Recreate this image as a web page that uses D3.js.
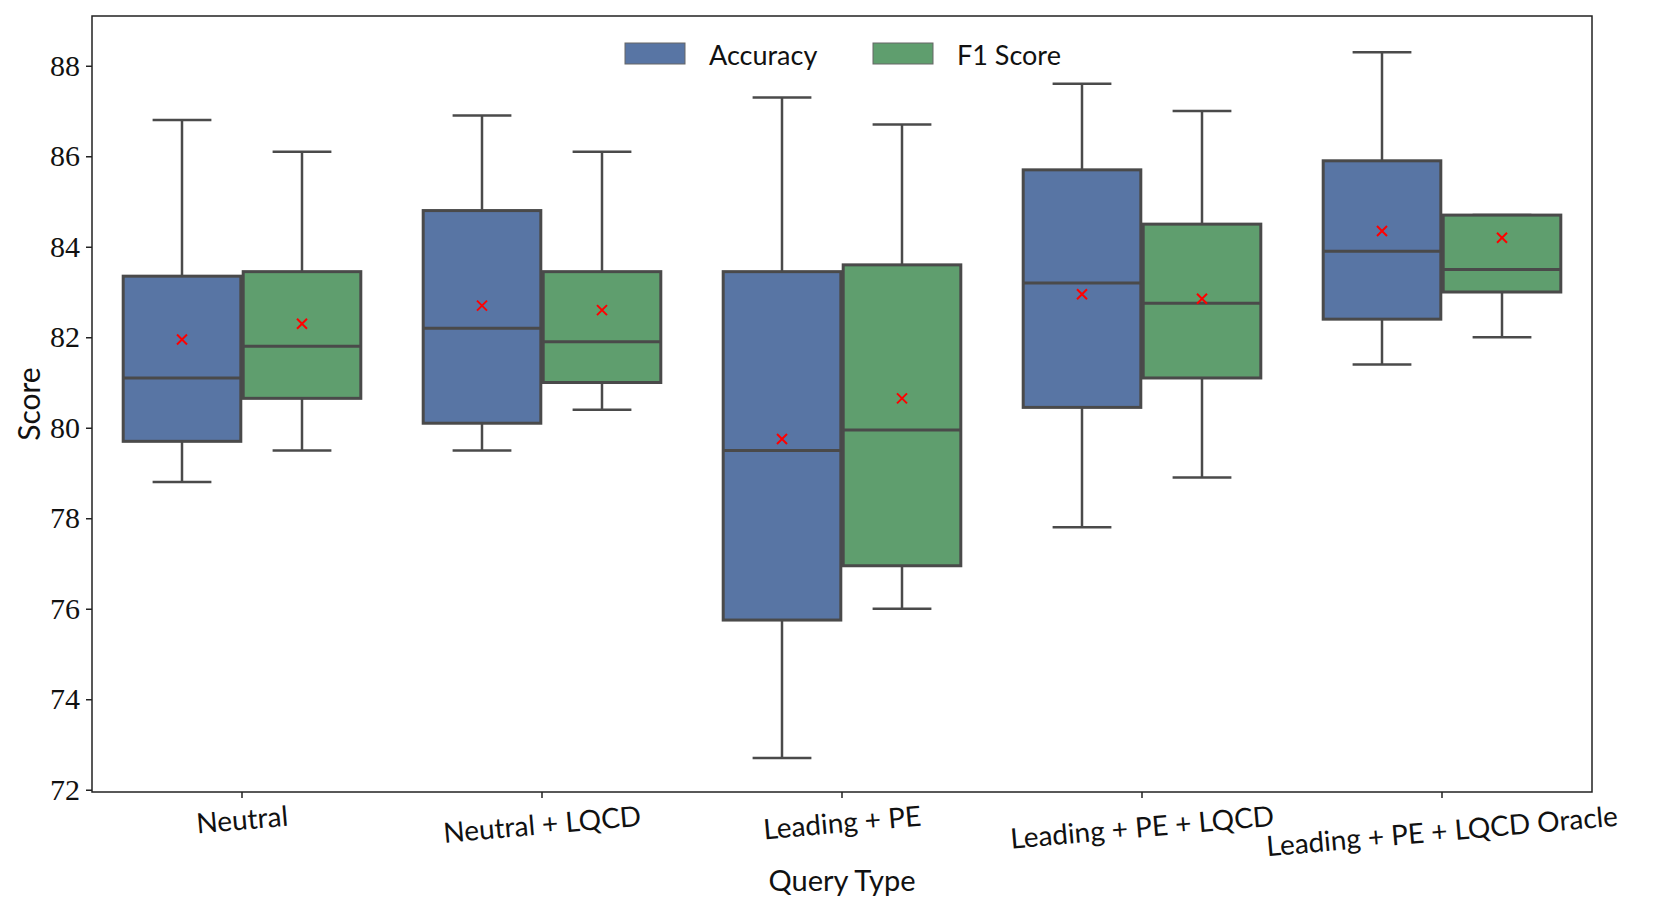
<!DOCTYPE html>
<html>
<head>
<meta charset="utf-8">
<script src="https://cdn.jsdelivr.net/npm/d3@7"></script>
<style>
  body { margin: 0; background: #fff; }
</style>
</head>
<body>
<script>
// box stats
var categories = ["Neutral", "Neutral + LQCD", "Leading + PE", "Leading + PE + LQCD", "Leading + PE + LQCD Oracle"];
var seriesNames = ["Accuracy", "F1 Score"];
var seriesColors = ["#5875a4", "#5f9e6e"];

var accLow = [78.8, 79.5, 72.7, 77.8, 81.4];
var accQ1 = [79.7, 80.1, 75.75, 80.45, 82.4];
var accMedian = [81.1, 82.2, 79.5, 83.2, 83.9];
var accQ3 = [83.35, 84.8, 83.45, 85.7, 85.9];
var accHigh = [86.8, 86.9, 87.3, 87.6, 88.3];
var accMean = [81.95, 82.7, 79.75, 82.95, 84.35];

var f1Low = [79.5, 80.4, 76.0, 78.9, 82.0];
var f1Q1 = [80.65, 81.0, 76.95, 81.1, 83.0];
var f1Median = [81.8, 81.9, 79.95, 82.75, 83.5];
var f1Q3 = [83.45, 83.45, 83.6, 84.5, 84.7];
var f1High = [86.1, 86.1, 86.7, 87.0, 84.7];
var f1Mean = [82.3, 82.6, 80.65, 82.85, 84.2];

var yTicks = [72, 74, 76, 78, 80, 82, 84, 86, 88];

var width = 1661, height = 911;
var plotLeft = 92, plotTop = 16, plotRight = 1592, plotBottom = 792;
var lineColor = "#4a4a4a";

var boxes = [];
categories.forEach(function (c, i) {
  boxes.push({cat: c, s: 0, low: accLow[i], q1: accQ1[i], med: accMedian[i], q3: accQ3[i], high: accHigh[i], mean: accMean[i]});
  boxes.push({cat: c, s: 1, low: f1Low[i], q1: f1Q1[i], med: f1Median[i], q3: f1Q3[i], high: f1High[i], mean: f1Mean[i]});
});

var svg = d3.select("body").append("svg")
  .attr("width", width)
  .attr("height", height);

var x = d3.scaleBand().domain(categories).range([plotLeft, plotRight]);
var hue = d3.scaleBand().domain([0, 1]).range([0, x.bandwidth() * 0.8]);
var y = d3.scaleLinear().domain([71.95, 89.1]).range([plotBottom, plotTop]);

var boxW = hue.bandwidth() * 0.98;
var capW = boxW * 0.5;

function cx(d) {
  return x(d.cat) + x.bandwidth() * 0.1 + hue(d.s) + hue.bandwidth() / 2;
}

var g = svg.append("g");
var box = g.selectAll("g.box").data(boxes).enter().append("g").attr("class", "box");

// whiskers
box.append("line")
  .attr("x1", cx).attr("x2", cx)
  .attr("y1", function (d) { return y(d.q3); })
  .attr("y2", function (d) { return y(d.high); })
  .attr("stroke", lineColor).attr("stroke-width", 2.5);
box.append("line")
  .attr("x1", cx).attr("x2", cx)
  .attr("y1", function (d) { return y(d.q1); })
  .attr("y2", function (d) { return y(d.low); })
  .attr("stroke", lineColor).attr("stroke-width", 2.5);
// caps
box.append("line")
  .attr("x1", function (d) { return cx(d) - capW / 2; })
  .attr("x2", function (d) { return cx(d) + capW / 2; })
  .attr("y1", function (d) { return y(d.high); })
  .attr("y2", function (d) { return y(d.high); })
  .attr("stroke", lineColor).attr("stroke-width", 2.5);
box.append("line")
  .attr("x1", function (d) { return cx(d) - capW / 2; })
  .attr("x2", function (d) { return cx(d) + capW / 2; })
  .attr("y1", function (d) { return y(d.low); })
  .attr("y2", function (d) { return y(d.low); })
  .attr("stroke", lineColor).attr("stroke-width", 2.5);

// boxes
box.append("rect")
  .attr("x", function (d) { return cx(d) - boxW / 2; })
  .attr("y", function (d) { return y(d.q3); })
  .attr("width", boxW)
  .attr("height", function (d) { return y(d.q1) - y(d.q3); })
  .attr("fill", function (d) { return seriesColors[d.s]; })
  .attr("stroke", lineColor).attr("stroke-width", 3);

// medians
box.append("line")
  .attr("x1", function (d) { return cx(d) - boxW / 2; })
  .attr("x2", function (d) { return cx(d) + boxW / 2; })
  .attr("y1", function (d) { return y(d.med); })
  .attr("y2", function (d) { return y(d.med); })
  .attr("stroke", lineColor).attr("stroke-width", 3);

// means as red x
box.append("path")
  .attr("d", function (d) {
    var px = cx(d), py = y(d.mean), r = 5;
    return "M" + (px - r) + "," + (py - r) + "L" + (px + r) + "," + (py + r) +
      "M" + (px - r) + "," + (py + r) + "L" + (px + r) + "," + (py - r);
  })
  .attr("stroke", "#ff0000").attr("stroke-width", 2).attr("fill", "none");

// frame
svg.append("rect")
  .attr("x", plotLeft).attr("y", plotTop)
  .attr("width", plotRight - plotLeft).attr("height", plotBottom - plotTop)
  .attr("fill", "none").attr("stroke", "#222").attr("stroke-width", 1.5);

// y axis
var yAxis = svg.append("g")
  .attr("transform", "translate(" + plotLeft + ",0)")
  .call(d3.axisLeft(y).tickValues(yTicks).tickSize(6).tickPadding(6));
yAxis.select(".domain").remove();
yAxis.selectAll(".tick line").attr("stroke", "#222").attr("stroke-width", 1.5);
yAxis.selectAll(".tick text")
  .attr("font-family", "'Liberation Serif', serif")
  .attr("font-size", 30)
  .attr("fill", "#111");

// x axis
var xAxis = svg.append("g")
  .attr("transform", "translate(0," + plotBottom + ")")
  .call(d3.axisBottom(x).tickSize(6).tickFormat(""));
xAxis.select(".domain").remove();
xAxis.selectAll(".tick line").attr("stroke", "#222").attr("stroke-width", 1.5);

var fontSize = 28, angle = 5;
var rad = angle * Math.PI / 180;
categories.forEach(function (c) {
  var t = svg.append("text")
    .attr("font-family", "Lato, sans-serif")
    .attr("font-size", fontSize)
    .attr("fill", "#111")
    .attr("text-anchor", "middle")
    .attr("dominant-baseline", "central")
    .text(c);
  var w = t.node().getComputedTextLength();
  var h = fontSize * 1.05;
  var bh = w * Math.sin(rad) + h * Math.cos(rad);
  var cxp = x(c) + x.bandwidth() / 2;
  var cyp = plotBottom + 6 + 2 + bh / 2;
  t.attr("transform", "translate(" + cxp + "," + cyp + ") rotate(" + (-angle) + ")");
});

svg.append("text")
  .attr("x", (plotLeft + plotRight) / 2).attr("y", 891)
  .attr("text-anchor", "middle")
  .attr("font-family", "Lato, sans-serif")
  .attr("font-size", 29)
  .attr("fill", "#111")
  .text("Query Type");

svg.append("text")
  .attr("transform", "translate(40," + ((plotTop + plotBottom) / 2) + ") rotate(-90)")
  .attr("text-anchor", "middle")
  .attr("font-family", "Lato, sans-serif")
  .attr("font-size", 30)
  .attr("fill", "#111")
  .text("Score");

// legend
var legend = svg.append("g");
var legX = [625, 873];
seriesNames.forEach(function (name, i) {
  legend.append("rect")
    .attr("x", legX[i]).attr("y", 43)
    .attr("width", 60).attr("height", 21)
    .attr("fill", seriesColors[i])
    .attr("stroke", "#666").attr("stroke-width", 1);
  legend.append("text")
    .attr("x", legX[i] + 84).attr("y", 65)
    .attr("font-family", "Lato, sans-serif")
    .attr("font-size", 27)
    .attr("fill", "#111")
    .text(name);
});
</script>
</body>
</html>
